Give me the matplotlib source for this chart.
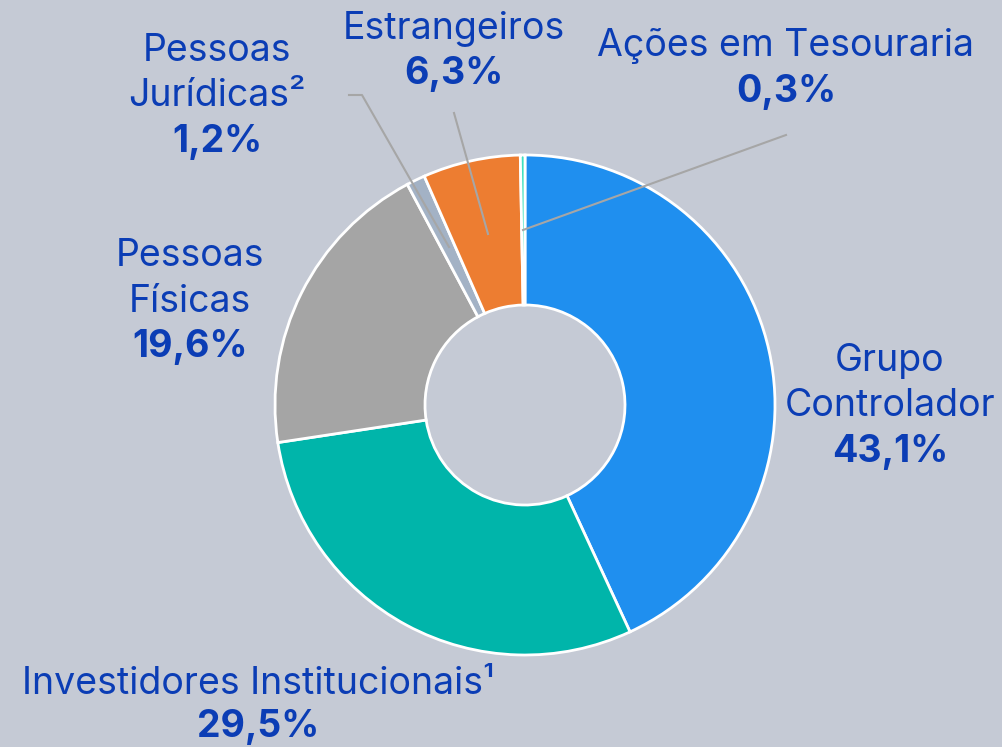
import matplotlib
matplotlib.use("Agg")
import matplotlib.pyplot as plt

categories = ["Grupo\nControlador", "Investidores Institucionais¹", "Pessoas\nFísicas",
              "Pessoas\nJurídicas²", "Estrangeiros", "Ações em Tesouraria"]
values = [43.1, 29.5, 19.6, 1.2, 6.3, 0.3]
value_labels = ["43,1%", "29,5%", "19,6%", "1,2%", "6,3%", "0,3%"]
colors = ["#1f8fef", "#00b5aa", "#a5a5a5", "#a3b2c5", "#ed7d31", "#3fe0c0"]

BG = "#c5cad5"
TXT = "#0b3db5"
W, H = 1002, 747

plt.rcParams['font.family'] = ['Inter', 'DejaVu Sans']
fig = plt.figure(figsize=(W / 100, H / 100), dpi=100, facecolor=BG)
ax = fig.add_axes([0, 0, 1, 1])
ax.set_facecolor(BG)

cx, cy, R = 525, H - 405, 250
ax.pie(values, colors=colors, startangle=90, counterclock=False,
       center=(cx, cy), radius=R, frame=True,
       wedgeprops=dict(width=150, edgecolor='white', linewidth=2))
ax.set_xlim(0, W)
ax.set_ylim(0, H)
ax.axis('off')

def Y(y):
    return H - y

layout = [
    (890, 361),
    (258, 684),
    (190, 256),
    (217, 51),
    (454, 29),
    (786, 46),
]
fs = 27
gap = 45.5
for i_cat, (cat, vl, (x, y)) in enumerate(zip(categories, value_labels, layout)):
    lines = cat.split("\n")
    g = gap if i_cat != 1 else 43
    for i, ln in enumerate(lines):
        ax.text(x, Y(y + i * g), ln, ha='center', va='center', fontsize=fs,
                color=TXT)
    ax.text(x, Y(y + len(lines) * g), vl, ha='center', va='center', fontsize=fs,
            color=TXT, fontweight='bold')

lc = "#a6a6a6"
ax.plot([786, 523], [Y(135), Y(230)], color=lc, lw=1.5)
ax.plot([349, 362, 449], [Y(95), Y(95), Y(247)], color=lc, lw=1.5)
ax.plot([454, 488], [Y(113), Y(234)], color=lc, lw=1.5)

fig.savefig("out.png", dpi=100, facecolor=BG)
